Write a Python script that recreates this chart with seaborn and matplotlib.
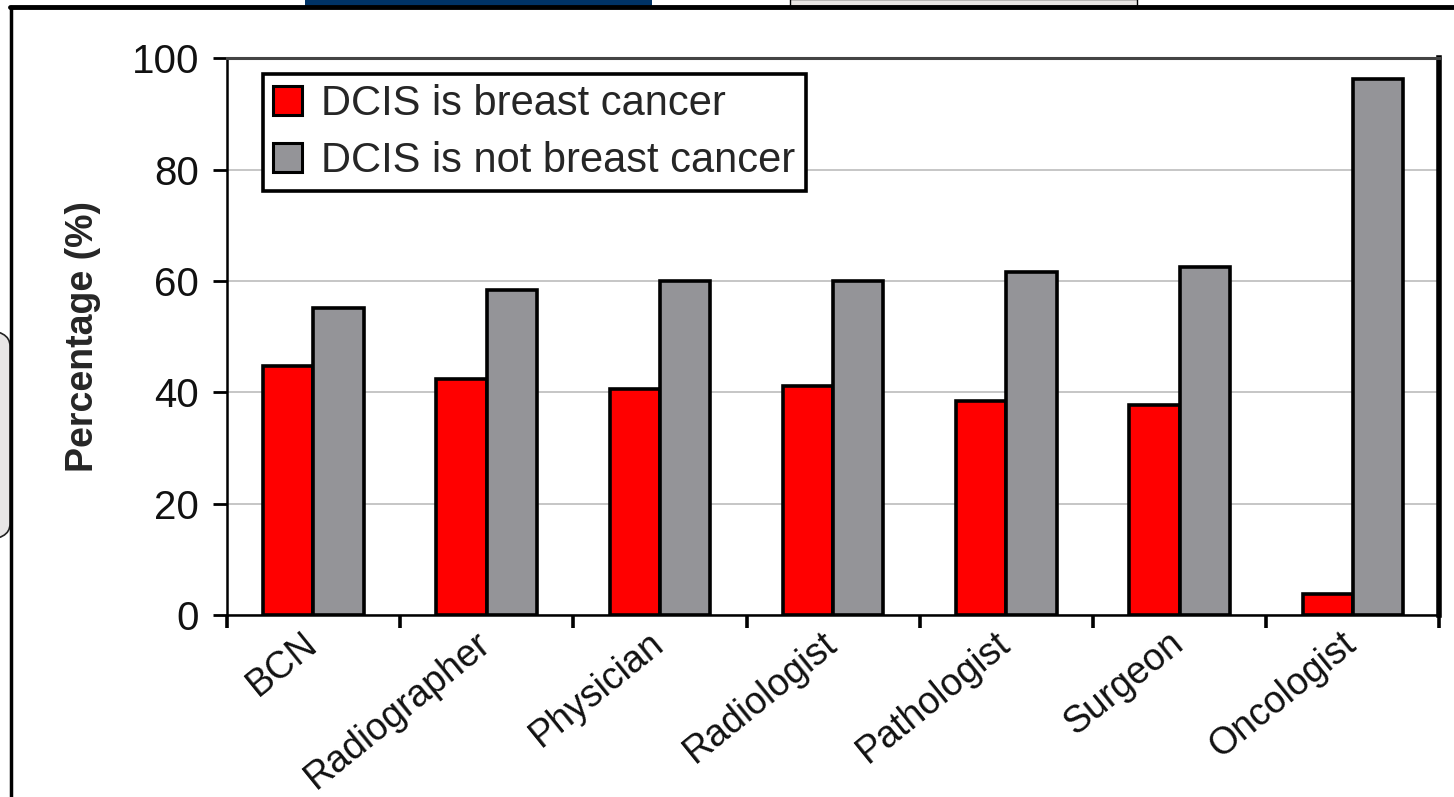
import numpy as np
import pandas as pd
import seaborn as sns
import matplotlib.pyplot as plt
import matplotlib.transforms as mtransforms
from matplotlib.patches import Rectangle, FancyBboxPatch
from matplotlib.lines import Line2D

# Survey responses by profession (percent of respondents)
professions = ["BCN", "Radiographer", "Physician", "Radiologist",
               "Pathologist", "Surgeon", "Oncologist"]
is_cancer = [44.7, 42.5, 40.6, 41.1, 38.4, 37.7, 3.9]
not_cancer = [55.1, 58.3, 60.0, 60.0, 61.6, 62.5, 96.2]
series = ["DCIS is breast cancer", "DCIS is not breast cancer"]
y_ticks = [0, 20, 40, 60, 80, 100]

df = pd.DataFrame({
    "Profession": professions * 2,
    "Response": [series[0]] * len(professions) + [series[1]] * len(professions),
    "Percentage": is_cancer + not_cancer,
})

sns.set_theme(style="white")
plt.rcParams["font.family"] = ["Liberation Sans", "DejaVu Sans"]

RED = "#FF0000"
GREY = "#949498"
FS = 29

fig = plt.figure(figsize=(14.54, 7.97), dpi=100)
ax = fig.add_axes([0.156, 0.228, 0.834, 0.699])

sns.barplot(data=df, x="Profession", y="Percentage", hue="Response",
            order=professions, hue_order=series, palette=[RED, GREY],
            saturation=1, width=0.58, gap=0, errorbar=None,
            edgecolor="black", linewidth=2.6, ax=ax)

ax.set_xlim(-0.5, len(professions) - 0.5)
ax.set_ylim(0, 100)
ax.set_yticks(y_ticks)
ax.set_yticklabels([str(v) for v in y_ticks], fontsize=FS, color="#111111")
ax.yaxis.grid(True, color="#C6C6C6", linewidth=1.4)
ax.set_axisbelow(True)

# category labels at centres, tick marks at the category boundaries
ax.set_xticks(range(len(professions)))
ax.set_xticks(np.arange(-0.5, len(professions)), minor=True)
ax.tick_params(axis="x", which="major", length=0, pad=7)
ax.tick_params(axis="x", which="minor", length=9, width=2.6,
               direction="out", color="black", bottom=True)
ax.tick_params(axis="y", which="major", length=10, width=2.0,
               direction="out", color="black", left=True, pad=10)
ax.set_xticklabels(professions, fontsize=27, rotation=39, ha="right",
                   va="top", rotation_mode="anchor", color="#111111")
shift = mtransforms.ScaledTranslation(-0.12, 0, fig.dpi_scale_trans)
for lbl in ax.get_xticklabels():
    lbl.set_transform(lbl.get_transform() + shift)

ax.set_xlabel("")
ax.set_ylabel("Percentage (%)", fontsize=27, fontweight="bold", labelpad=22)

for side in ["left", "bottom", "top", "right"]:
    ax.spines[side].set_visible(True)
ax.spines["left"].set_color("black")
ax.spines["left"].set_linewidth(1.8)
ax.spines["bottom"].set_color("black")
ax.spines["bottom"].set_linewidth(1.8)
ax.spines["top"].set_color("#444444")
ax.spines["top"].set_linewidth(2.2)
ax.spines["right"].set_color("black")
ax.spines["right"].set_linewidth(4)

sns.move_legend(ax, loc="upper left", bbox_to_anchor=(0.0297, 0.972),
                borderaxespad=0, title=None, frameon=True, fancybox=False,
                framealpha=1, fontsize=FS + 1, handlelength=0.7,
                handleheight=0.7, handletextpad=0.45, borderpad=0.25,
                labelspacing=0.4)
leg = ax.get_legend()
leg.get_frame().set_edgecolor("black")
leg.get_frame().set_linewidth(2.6)
for h in leg.legend_handles:
    h.set_edgecolor("black")
    h.set_linewidth(2.2)

# slide frame around the chart
W, H = 1454, 797
fig.add_artist(Rectangle((305 / W, 1 - 6 / H), 347 / W, 6 / H,
                         transform=fig.transFigure, facecolor="#003366",
                         edgecolor="none"))
fig.add_artist(Rectangle((790 / W, 1 - 6 / H), 347 / W, 7 / H,
                         transform=fig.transFigure, facecolor="#E8E5E3",
                         edgecolor="black", linewidth=1))
fig.add_artist(FancyBboxPatch((-40 / W, 1 - 540 / H), 50 / W, 210 / H,
                              boxstyle="round,pad=0,rounding_size=0.02",
                              transform=fig.transFigure, facecolor="#E8E6E6",
                              edgecolor="#222222", linewidth=1.2))
fig.add_artist(Line2D([10 / W, 1], [1 - 7 / H, 1 - 7 / H],
                      transform=fig.transFigure, color="black", linewidth=3.5))
fig.add_artist(Line2D([11 / W, 11 / W], [0, 1 - 7 / H],
                      transform=fig.transFigure, color="black", linewidth=2.5))

fig.savefig("out.png", dpi=100)
